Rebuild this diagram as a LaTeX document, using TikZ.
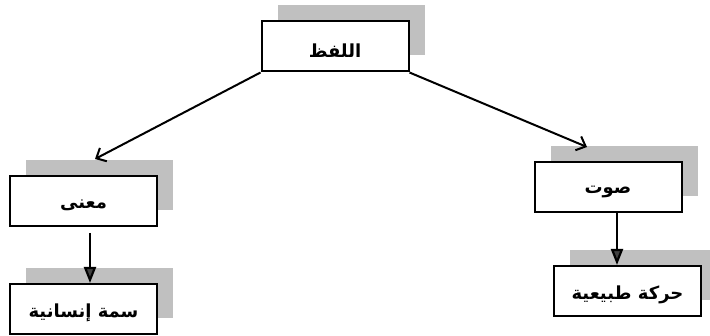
\documentclass[tikz,border=0pt]{standalone}
\usepackage{fontspec}
\usepackage{tikz}
\usetikzlibrary{arrows.meta,shadows}
\newfontfamily\arabicfont[Script=Arabic,BoldFont={DejaVu Sans Bold}]{DejaVu Sans}
\TeXXeTstate=1
\definecolor{shadowgray}{HTML}{C0C0C0}
\definecolor{headgray}{HTML}{404040}
\tikzset{
  wordbox/.style={draw, line width=2pt, fill=white, minimum width=147pt,
    minimum height=50pt, inner sep=0pt,
    font=\arabicfont\bfseries\fontsize{18}{20}\selectfont,
    drop shadow={shadow xshift=16pt, shadow yshift=16pt, fill=shadowgray, opacity=1}},
  barbarr/.style={-{Straight Barb[length=8pt, width=15pt, line width=2pt]}, line width=2pt},
  downarr/.style={-{Triangle[length=16pt, width=12pt, fill=headgray]}, line width=2.2pt}
}
% right-to-left label, lowered a little in its box
\newcommand{\ar}[1]{\raisebox{-4pt}[\height][\depth]{\beginR #1\endR}}

\begin{document}
\begin{tikzpicture}[x=1pt,y=-1pt]
  \useasboundingbox (0,0) rectangle (710,336);
  \node[wordbox] (word) at (335,46.5) {\ar{اللفظ}};
  \node[wordbox] (meaning) at (83.5,201) {\ar{معنى}};
  \node[wordbox] (human) at (83.5,309) {\ar{سمة إنسانية}};
  \node[wordbox] (sound) at (608,187.5) {\ar{صوت}};
  \node[wordbox] (nature) at (627.5,291) {\ar{حركة طبيعية}};
  % arrows stop on the top edge of the shadow
  \coordinate (meaningtip) at (95,159);
  \coordinate (soundtip) at (587,147);
  \draw[barbarr] (word.south west) -- (meaningtip);
  \draw[barbarr] (word.south east) -- (soundtip);
  \draw[downarr] ([xshift=6.5pt,yshift=-6pt]meaning.south) -- ([xshift=6.5pt]human.north);
  \draw[downarr] ([xshift=9pt]sound.south) -- ([xshift=-10.5pt]nature.north);
\end{tikzpicture}
\end{document}
